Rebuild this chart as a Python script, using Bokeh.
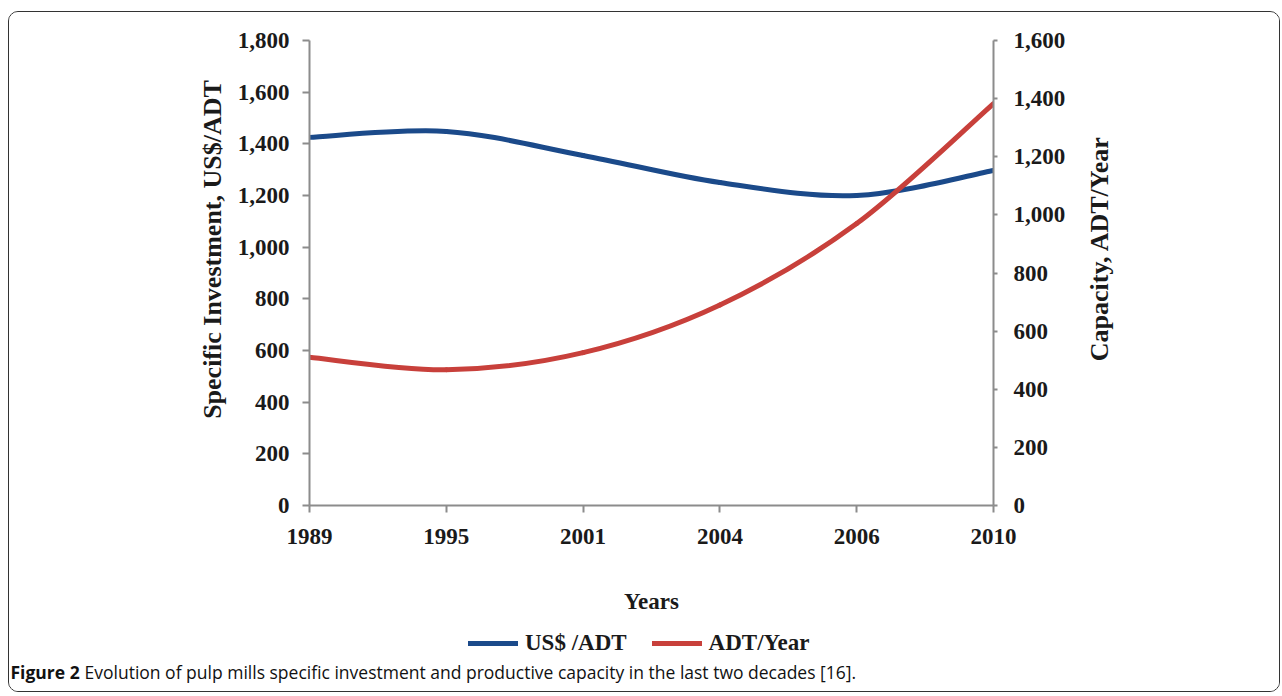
import math
from bokeh.plotting import figure
from bokeh.layouts import column, row
from bokeh.models import (Range1d, LinearAxis, FixedTicker, NumeralTickFormatter,
                          Legend, LegendItem, Label, ColumnDataSource)
from bokeh.embed import file_html
from bokeh.resources import INLINE

# ---------------- data ----------------
years = ["1989", "1995", "2001", "2004", "2006", "2010"]
usd_per_adt = [1425, 1448, 1355, 1250, 1200, 1297]      # left axis
adt_per_year = [510, 467, 526, 690, 970, 1383]           # right axis
left_ticks = [0, 200, 400, 600, 800, 1000, 1200, 1400, 1600, 1800]
right_ticks = [0, 200, 400, 600, 800, 1000, 1200, 1400, 1600]
series_names = ["US$ /ADT", "ADT/Year"]
left_title = "Specific Investment, US$/ADT"
right_title = "Capacity, ADT/Year"
x_title = "Years"
caption_bold = "Figure 2"
caption_text = ("Evolution of pulp mills specific investment and productive "
                "capacity in the last two decades [16].")

BLUE = "#1B4A8A"
RED = "#C8403B"
AXIS = "#8C8C8C"
SERIF = "Liberation Serif"
TXT = "#1A1A1A"

H1 = 608          # chart row height
H2 = 71           # legend + caption strip height
WL, WC, WR = 219, 847, 204   # left title strip, chart, right title strip
W = WL + WC + WR
FL, FR, FT, FB = 81, 765, 28, 493   # frame edges inside the chart canvas


def blank(width, height):
    f = figure(width=width, height=height, output_backend="svg", toolbar_location=None,
               x_range=Range1d(0, width), y_range=Range1d(height, 0),
               min_border=0, outline_line_color=None,
               background_fill_color="white", border_fill_color="white")
    f.frame_align = False
    f.axis.visible = False
    f.grid.visible = False
    return f


def bezier_source(vals):
    n = len(vals)
    xs = list(range(n))
    x0, y0, x1, y1, cx0, cy0, cx1, cy1 = ([] for _ in range(8))
    for i in range(n - 1):
        im1 = max(i - 1, 0)
        ip2 = min(i + 2, n - 1)
        x0.append(xs[i]); y0.append(vals[i])
        x1.append(xs[i + 1]); y1.append(vals[i + 1])
        cx0.append(xs[i] + (xs[i + 1] - xs[im1]) / 6)
        cy0.append(vals[i] + (vals[i + 1] - vals[im1]) / 6)
        cx1.append(xs[i + 1] - (xs[ip2] - xs[i]) / 6)
        cy1.append(vals[i + 1] - (vals[ip2] - vals[i]) / 6)
    return ColumnDataSource(dict(x0=x0, y0=y0, x1=x1, y1=y1,
                                 cx0=cx0, cy0=cy0, cx1=cx1, cy1=cy1))


# ---------------- main chart ----------------
p = figure(width=WC, height=H1, output_backend="svg", toolbar_location=None,
           x_range=Range1d(0, len(years) - 1), y_range=Range1d(0, left_ticks[-1]),
           min_border_left=FL, min_border_right=WC - FR,
           min_border_top=FT, min_border_bottom=H1 - FB,
           outline_line_color=None, background_fill_color="white",
           border_fill_color="white")
p.frame_align = False
p.extra_y_ranges = {"right": Range1d(0, right_ticks[-1])}
p.xgrid.visible = False
p.ygrid.visible = False

xa = p.xaxis[0]
xa.ticker = FixedTicker(ticks=list(range(len(years))))
xa.major_label_overrides = {i: y for i, y in enumerate(years)}
xa.major_tick_out = 7
xa.major_label_standoff = 16
xa.axis_label = x_title
xa.axis_label_standoff = 42

ya = p.yaxis[0]
ya.ticker = FixedTicker(ticks=left_ticks)
ya.formatter = NumeralTickFormatter(format="0,0")
ya.major_tick_out = 7
ya.major_label_standoff = 13

yr = LinearAxis(y_range_name="right", ticker=FixedTicker(ticks=right_ticks),
                formatter=NumeralTickFormatter(format="0,0"))
yr.major_tick_out = 4
yr.major_label_standoff = 16
p.add_layout(yr, "right")

for ax in (xa, ya, yr):
    ax.major_tick_in = 0
    ax.minor_tick_out = 0
    ax.minor_tick_in = 0
    ax.axis_line_color = AXIS
    ax.axis_line_width = 2
    ax.major_tick_line_color = AXIS
    ax.major_tick_line_width = 2
    ax.major_label_text_font = SERIF
    ax.major_label_text_font_style = "bold"
    ax.major_label_text_font_size = "23px"
    ax.major_label_text_color = TXT
    ax.axis_label_text_font = SERIF
    ax.axis_label_text_font_style = "bold"
    ax.axis_label_text_font_size = "23px"
    ax.axis_label_text_color = TXT

p.bezier(x0="x0", y0="y0", x1="x1", y1="y1", cx0="cx0", cy0="cy0",
         cx1="cx1", cy1="cy1", source=bezier_source(usd_per_adt),
         line_color=BLUE, line_width=5, line_cap="round")
p.bezier(x0="x0", y0="y0", x1="x1", y1="y1", cx0="cx0", cy0="cy0",
         cx1="cx1", cy1="cy1", source=bezier_source(adt_per_year),
         line_color=RED, line_width=5, line_cap="round", y_range_name="right")

# ---------------- axis title strips ----------------
lt = blank(WL, H1)
lt.add_layout(Label(x=203, y=237, text=left_title, angle=math.pi / 2,
                    text_align="center", text_baseline="middle",
                    text_font=SERIF, text_font_style="bold", text_font_size="26px",
                    text_color=TXT))
rt = blank(WR, H1)
rt.add_layout(Label(x=24, y=236, text=right_title, angle=math.pi / 2,
                    text_align="center", text_baseline="middle",
                    text_font=SERIF, text_font_style="bold", text_font_size="26px",
                    text_color=TXT))

# ---------------- legend + caption strip ----------------
q = blank(W, H2)
nan = float("nan")
lr_blue = q.line(x=[nan, nan], y=[nan, nan], line_color=BLUE, line_width=5,
                 line_cap="round")
lr_red = q.line(x=[nan, nan], y=[nan, nan], line_color=RED, line_width=5,
                line_cap="round")
legend = Legend(items=[LegendItem(label=series_names[0], renderers=[lr_blue]),
                       LegendItem(label=series_names[1], renderers=[lr_red])],
                orientation="horizontal", location=(459, 35),
                border_line_color=None, background_fill_alpha=0,
                glyph_width=50, glyph_height=26, label_standoff=7, spacing=25,
                padding=0, margin=0, label_height=26,
                label_text_font=SERIF, label_text_font_style="bold",
                label_text_font_size="23px", label_text_color=TXT)
q.add_layout(legend, "center")

q.add_layout(Label(x=1, y=51, text=caption_bold, text_align="left",
                   text_baseline="middle", text_font="Open Sans",
                   text_font_style="bold", text_font_size="17.5px", text_color="#111111"))
q.add_layout(Label(x=75, y=51, text=caption_text, text_align="left",
                   text_baseline="middle", text_font="Open Sans",
                   text_font_size="17.5px", text_color="#111111"))

layout = column(row(lt, p, rt, spacing=0), q, spacing=0, margin=(11, 0, 0, 8),
                styles={"border": "1px solid #333333", "border-radius": "10px",
                        "overflow": "hidden"})

open("out.html", "w").write(file_html(layout, INLINE))
